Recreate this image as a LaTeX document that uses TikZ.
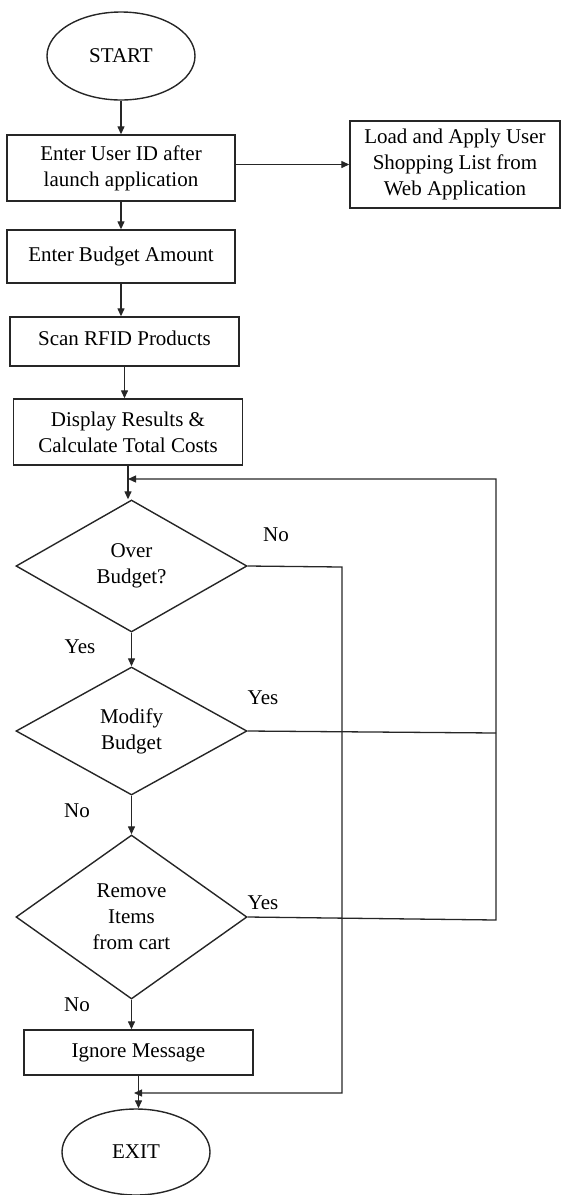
\documentclass[tikz,border=0pt]{standalone}
\usepackage{fontspec}
\setmainfont{Liberation Serif}
\usetikzlibrary{shapes.geometric,arrows.meta,calc}
\tikzset{
  base/.style={draw=black!85, line width=1.4pt, inner sep=0pt, align=center, font=\rmfamily\fontsize{21}{26}\selectfont},
  box/.style={base, rectangle},
  oval/.style={base, ellipse},
  decision/.style={base, diamond, minimum width=231pt},
  arr/.style={line width=1.3pt, draw=black!85, -{Triangle[length=8pt,width=7pt]}},
  ln/.style={line width=1.3pt, draw=black!85},
  lbl/.style={font=\rmfamily\fontsize{21}{26}\selectfont, inner sep=0pt}
}
\begin{document}
\begin{tikzpicture}[x=1pt,y=-1pt]
\useasboundingbox (0,0) rectangle (562,1195);
\node[oval, minimum width=148pt, minimum height=88pt] (start) at (121,56) {START};
\node[box, minimum width=228pt, minimum height=66pt] (b1) at (121,168) {Enter User ID after\\launch application};
\node[box, minimum width=210pt, minimum height=87pt] (load) at (455,164.5) {Load and Apply User\\Shopping List from\\Web Application};
\node[box, minimum width=228pt, minimum height=53pt] (b2) at (121,256.5) {\raisebox{5pt}{Enter Budget Amount}};
\node[box, minimum width=229pt, minimum height=49pt] (b3) at (124.5,341.5) {\raisebox{6pt}{Scan RFID Products}};
\node[box, minimum width=229pt, minimum height=66pt] (b4) at (128,432) {Display Results \&\\Calculate Total Costs};
\node[decision, minimum height=132pt] (d1) at (131.5,566) {Over\\Budget?};
\node[decision, minimum height=128pt] (d2) at (131.5,731) {Modify\\Budget};
\node[decision, minimum height=164pt] (d3) at (131.5,917) {Remove\\Items\\from cart};
\node[box, minimum width=229pt, minimum height=45pt] (b5) at (138.5,1052.5) {Ignore Message};
\node[oval, minimum width=148pt, minimum height=86pt] (exit) at (136,1152) {EXIT};

\coordinate (j1) at (128,479);
\coordinate (r1) at (496,479);
\coordinate (r2) at (496,733);
\coordinate (r3) at (496,920);
\coordinate (n1) at (342,567);
\coordinate (n2) at (342,1093);
\coordinate (j2) at (134,1093);

\draw[arr] (start.south) -- (start.south |- b1.north);
\draw[arr] (b1.east |- load.west) -- (load.west);
\draw[arr] (b1.south) -- (b1.south |- b2.north);
\draw[arr] (b2.south) -- (b2.south |- b3.north);
\draw[arr] (b3.south) -- (b3.south |- b4.north);
\draw[arr] (b4.south) -- (b4.south |- d1.north);
\draw[arr] (d1.south) -- (d1.south |- d2.north);
\draw[arr] (d2.south) -- (d2.south |- d3.north);
\draw[arr] (d3.south) -- (d3.south |- b5.north);
\draw[arr] (b5.south) -- (b5.south |- exit.north);

\draw[arr] (d3.east) -- (r3) -- (r1) -- (j1);
\draw[ln] (d2.east) -- (r2);
\draw[arr] (d1.east) -- (n1) -- (n2) -- (j2);

\node[lbl] (lno1) at (276,535) {No};
\node[lbl] (lyes1) at (80,647) {Yes};
\node[lbl] (lyes2) at (263,698) {Yes};
\node[lbl] (lno2) at (77,811) {No};
\node[lbl] (lyes3) at (263,903) {Yes};
\node[lbl] (lno3) at (77,1005) {No};
\end{tikzpicture}
\end{document}
